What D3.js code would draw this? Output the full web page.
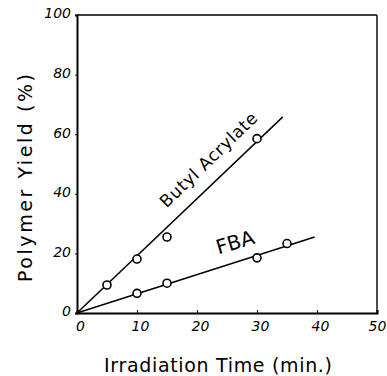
<!DOCTYPE html>
<html>
<head>
<meta charset="utf-8">
<script src="https://cdn.jsdelivr.net/npm/d3@7"></script>
<style>
  body { margin: 0; background: #fff; }
  text { fill: #000; }
</style>
</head>
<body>
<figure id="chart" style="margin:0"></figure>
<script>
// data
const butylTime = [5, 10, 15, 30];
const butylYield = [9.4, 18.1, 25.5, 58.5];
const butylFit = [[0, 0], [34.3, 65.8]];

const fbaTime = [10, 15, 30, 35];
const fbaYield = [6.6, 10, 18.5, 23.3];
const fbaFit = [[0, 0], [39.6, 25.5]];

const xTicks = [0, 10, 20, 30, 40, 50];
const yTicks = [0, 20, 40, 60, 80, 100];

const width = 387, height = 376;
const margin = { left: 77, top: 15, right: 10, bottom: 63 };

const svg = d3.select("figure#chart")
  .append("svg")
  .attr("width", width)
  .attr("height", height);

const x = d3.scaleLinear().domain([0, 50]).range([margin.left, width - margin.right]);
const y = d3.scaleLinear().domain([0, 100]).range([height - margin.bottom, margin.top]);

const tickFont = "'DejaVu Sans', sans-serif";

// frame: heavier left/bottom, lighter top/right
svg.append("line")
  .attr("x1", x(0)).attr("x2", x(50)).attr("y1", y(100)).attr("y2", y(100))
  .attr("stroke", "#000").attr("stroke-width", 1.4);
svg.append("line")
  .attr("x1", x(50)).attr("x2", x(50)).attr("y1", y(100)).attr("y2", y(0))
  .attr("stroke", "#000").attr("stroke-width", 1.4);

// X axis
const xAxis = svg.append("g")
  .attr("transform", "translate(0," + y(0) + ")")
  .call(d3.axisBottom(x).tickValues(xTicks).tickSize(-3).tickPadding(8).tickFormat(d3.format("d")));
xAxis.select(".domain").attr("stroke-width", 2);
xAxis.selectAll("text")
  .attr("font-family", tickFont)
  .attr("font-style", "italic")
  .attr("font-size", 14)
  .attr("dx", d => d === 50 ? 0 : 3);

// Y axis
const yAxis = svg.append("g")
  .attr("transform", "translate(" + x(0) + ",0)")
  .call(d3.axisLeft(y).tickValues(yTicks).tickSize(2).tickPadding(4).tickFormat(d3.format("d")));
yAxis.select(".domain").attr("stroke-width", 2);
yAxis.selectAll("text")
  .attr("font-family", tickFont)
  .attr("font-style", "italic")
  .attr("font-size", 14)
  .attr("dy", "0.2em");

// fitted lines
const line = d3.line().x(d => x(d[0])).y(d => y(d[1]));
svg.append("path").datum(butylFit).attr("d", line)
  .attr("fill", "none").attr("stroke", "#000").attr("stroke-width", 1.5);
svg.append("path").datum(fbaFit).attr("d", line)
  .attr("fill", "none").attr("stroke", "#000").attr("stroke-width", 1.5);

// points
const drawDots = (xs, ys) => {
  svg.append("g").selectAll("circle")
    .data(xs.map((t, i) => [t, ys[i]]))
    .enter()
    .append("circle")
    .attr("cx", d => x(d[0]))
    .attr("cy", d => y(d[1]))
    .attr("r", 4)
    .attr("fill", "#fff")
    .attr("stroke", "#000")
    .attr("stroke-width", 1.6);
};
drawDots(butylTime, butylYield);
drawDots(fbaTime, fbaYield);

// series labels
svg.append("text")
  .attr("transform", "translate(" + x(22.6) + "," + y(50) + ") rotate(-44)")
  .attr("text-anchor", "middle")
  .attr("font-family", "'DejaVu Sans', sans-serif")
  .attr("font-size", 17)
  .attr("textLength", 128)
  .text("Butyl Acrylate");

svg.append("text")
  .attr("transform", "translate(" + x(26.7) + "," + y(21.5) + ") rotate(-17)")
  .attr("text-anchor", "middle")
  .attr("font-family", "'DejaVu Sans', sans-serif")
  .attr("font-size", 20)
  .text("FBA");

// axis titles
svg.append("text")
  .attr("x", 218).attr("y", 372)
  .attr("text-anchor", "middle")
  .attr("font-family", "'DejaVu Sans', sans-serif")
  .attr("font-size", 19)
  .attr("textLength", 228)
  .text("Irradiation Time (min.)");

svg.append("text")
  .attr("transform", "translate(32,178) rotate(-90)")
  .attr("text-anchor", "middle")
  .attr("font-family", "'DejaVu Sans', sans-serif")
  .attr("font-size", 19)
  .attr("textLength", 208)
  .text("Polymer Yield (%)");
</script>
</body>
</html>
